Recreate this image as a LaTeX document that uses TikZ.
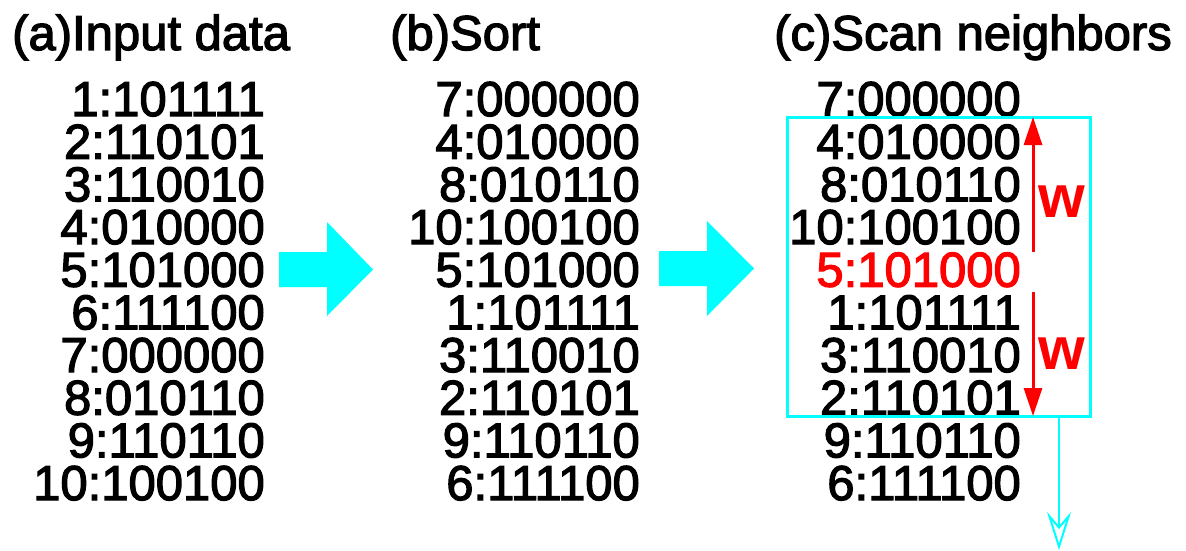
\documentclass[tikz,border=0pt]{standalone}
\usepackage{fontspec}
\setmainfont{Liberation Sans}
\newfontfamily\heavyish[FakeBold=2.5]{Liberation Sans}
\usetikzlibrary{arrows.meta}
\definecolor{aqua}{RGB}{0,255,255}
\definecolor{hotred}{RGB}{255,0,0}
\tikzset{
  title/.style={anchor=base west, inner sep=0pt, font=\heavyish\fontsize{49}{49}\selectfont},
  entry/.style={anchor=base east, inner sep=0pt, text height=35pt, text depth=0pt,
                font=\heavyish\fontsize{49}{49}\selectfont},
  blockarrow/.style={fill=aqua},
  window/.style={draw=aqua, line width=3pt},
  reach/.style={draw=hotred, line width=3pt, -{Triangle[length=28pt, width=18pt]}},
  wlabel/.style={text=hotred, inner sep=0pt, font=\bfseries\fontsize{60}{60}\selectfont},
  advance/.style={draw=aqua, line width=2pt, -{Stealth[open, length=38pt, width=24pt, inset=14pt]}}
}
\begin{document}
\begin{tikzpicture}[x=1pt, y=-1pt]
\useasboundingbox (0,0) rectangle (1186,551);

% column titles
\node[title] (ta) at (12,50) {(a)Input data};
\node[title] (tb) at (390,50) {(b)Sort};
\node[title] (tc) at (774,50) {(c)Scan neighbors};

% (a) input records
\foreach \t [count=\i] in {1:101111,2:110101,3:110010,4:010000,5:101000,
                           6:111100,7:000000,8:010110,9:110110,10:100100}
  \node[entry] (a\i) at (265,{116+(\i-1)*42.67}) {\t};

% (b) records after sorting
\foreach \t [count=\i] in {7:000000,4:010000,8:010110,10:100100,5:101000,
                           1:101111,3:110010,2:110101,9:110110,6:111100}
  \node[entry] (b\i) at (640,{116+(\i-1)*42.67}) {\t};

% (c) sorted records, the current one in red
\foreach \t/\c [count=\i] in {7:000000/black,4:010000/black,8:010110/black,
                              10:100100/black,5:101000/hotred,1:101111/black,
                              3:110010/black,2:110101/black,9:110110/black,
                              6:111100/black}
  \node[entry, text=\c] (c\i) at (1021,{116+(\i-1)*42.67}) {\t};

% block arrows between the stages
\fill[blockarrow] (279,252) -- (327,252) -- (327,222) -- (373,269.5)
  -- (327,316) -- (327,287) -- (279,287) -- cycle;
\fill[blockarrow] (659,251) -- (707,251) -- (707,221) -- (754,268.5)
  -- (707,316) -- (707,286) -- (659,286) -- cycle;

% scan window around the neighbours
\coordinate (wtl) at (787,117);
\coordinate (wbr) at (1090,416);
\draw[window] (wtl) rectangle (wbr);

% window reach above and below the current record
\coordinate (upfrom) at (1033,252);
\coordinate (upto) at (1033,117);
\coordinate (dnfrom) at (1033,292);
\coordinate (dnto) at (1033,416);
\draw[reach] (upfrom) -- (upto);
\draw[reach] (dnfrom) -- (dnto);
\node[wlabel] (w1) at (1062,202) {w};
\node[wlabel] (w2) at (1062,354) {w};

% window slides down
\coordinate (slide0) at (1059,416);
\coordinate (slide1) at (1059,550);
\draw[advance] (slide0) -- (slide1);
\end{tikzpicture}
\end{document}
